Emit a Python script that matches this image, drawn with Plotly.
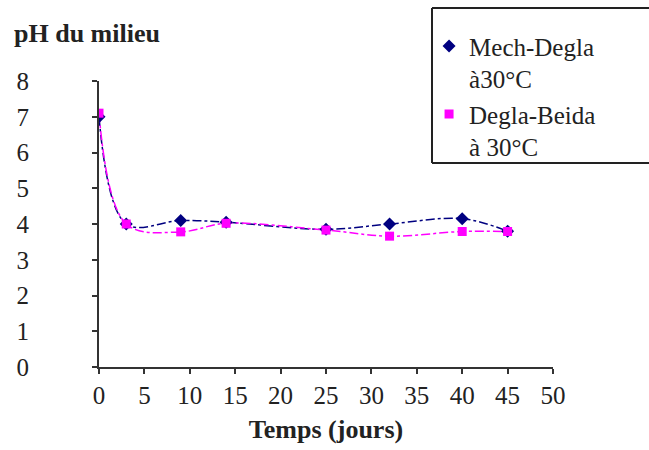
import plotly.graph_objects as go

days = [0, 3, 9, 14, 25, 32, 40, 45]
mech_degla = [7.0, 4.0, 4.1, 4.05, 3.85, 4.0, 4.15, 3.8]
degla_beida = [7.1, 4.0, 3.78, 4.02, 3.83, 3.66, 3.79, 3.79]
x_ticks = [0, 5, 10, 15, 20, 25, 30, 35, 40, 45, 50]
y_ticks = [0, 1, 2, 3, 4, 5, 6, 7, 8]

NAVY = "#000080"
PINK = "#FF00FF"
FONT = "Liberation Serif"

fig = go.Figure()
fig.add_trace(go.Scatter(x=days, y=mech_degla, mode="lines", showlegend=False,
                         line=dict(color=NAVY, width=1.5, dash="dashdot", shape="spline", smoothing=1)))
fig.add_trace(go.Scatter(x=days, y=degla_beida, mode="lines", showlegend=False,
                         line=dict(color=PINK, width=1.5, dash="dashdot", shape="spline", smoothing=1)))
fig.add_trace(go.Scatter(x=days, y=mech_degla, mode="markers", name="Mech-Degla<br>à30°C",
                         marker=dict(symbol="diamond", color=NAVY, size=10)))
fig.add_trace(go.Scatter(x=days, y=degla_beida, mode="markers", name="Degla-Beida<br>à 30°C",
                         marker=dict(symbol="square", color=PINK, size=9)))

axis_common = dict(showgrid=False, zeroline=False, showline=True, linecolor="#333333", linewidth=2,
                   ticks="outside", ticklen=5, tickwidth=1.5, tickcolor="#333333",
                   tickfont=dict(family=FONT, size=25, color="#222222"))

# legend frame (left, top, bottom edges; the right edge falls outside the picture)
bx0 = (432 - 99) / 454
bx1 = 1.4
by0 = (367 - 163) / 286
by1 = (367 - 8) / 286
frame = dict(type="line", xref="paper", yref="paper", line=dict(color="#222222", width=2))
shapes = [
    dict(frame, x0=bx0, x1=bx0, y0=by0, y1=by1),
    dict(frame, x0=bx0, x1=bx1, y0=by1, y1=by1),
    dict(frame, x0=bx0, x1=bx1, y0=by0, y1=by0),
]

fig.update_layout(
    width=649, height=450,
    margin=dict(l=99, r=96, t=81, b=83),
    paper_bgcolor="white", plot_bgcolor="white",
    font=dict(family=FONT, color="#222222"),
    xaxis=dict(range=[0, 50], tickvals=x_ticks, **axis_common,
               title=dict(text="<b>Temps (jours)</b>", font=dict(family=FONT, size=26), standoff=12)),
    yaxis=dict(range=[0, 8], tickvals=y_ticks, ticklabelstandoff=58, **axis_common),
    legend=dict(x=0.727, y=1.202, xanchor="left", yanchor="top", bgcolor="rgba(0,0,0,0)",
                borderwidth=0, font=dict(family=FONT, size=25, color="#222222"),
                itemwidth=30, tracegroupgap=0, valign="top"),
    annotations=[dict(text="<b>pH du milieu</b>", xref="paper", yref="paper", x=-0.192, y=1.165,
                      xanchor="left", yanchor="middle", showarrow=False,
                      font=dict(family=FONT, size=26, color="#222222"))],
    shapes=shapes,
)

fig.write_html("out.html")
